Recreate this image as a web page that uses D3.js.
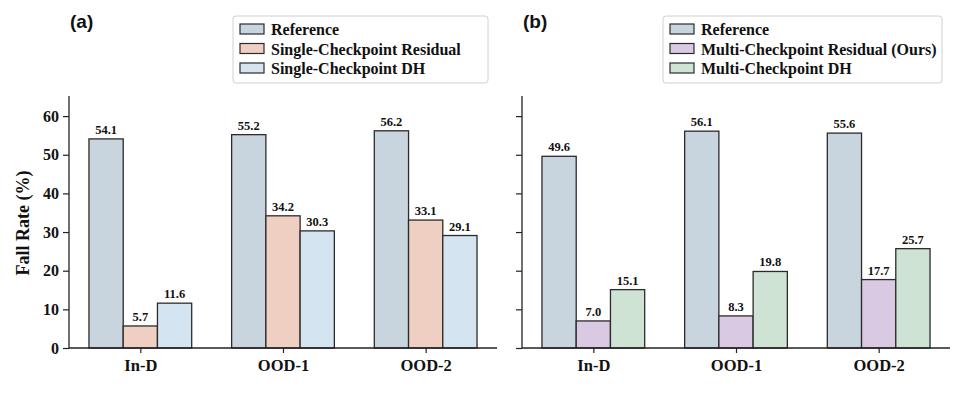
<!DOCTYPE html>
<html>
<head>
<meta charset="utf-8">
<script src="https://cdn.jsdelivr.net/npm/d3@7"></script>
<style>
  body { margin: 0; background: #fff; }
  text { font-family: "Liberation Serif", "Times New Roman", serif; font-weight: bold; fill: #111; }
</style>
</head>
<body>
<div id="chart"></div>
<script>
var width = 965;
var height = 407;

var categories = ["In-D", "OOD-1", "OOD-2"];
var yTicks = [0, 10, 20, 30, 40, 50, 60];

// panel (a)
var seriesA = ["Reference", "Single-Checkpoint Residual", "Single-Checkpoint DH"];
var refA = [54.1, 55.2, 56.2];
var singleResidual = [5.7, 34.2, 33.1];
var singleDH = [11.6, 30.3, 29.1];

// panel (b)
var seriesB = ["Reference", "Multi-Checkpoint Residual (Ours)", "Multi-Checkpoint DH"];
var refB = [49.6, 56.1, 55.6];
var multiResidual = [7.0, 8.3, 17.7];
var multiDH = [15.1, 19.8, 25.7];

var colorsA = ["#c9d5de", "#f0cfc3", "#d5e4f1"];
var colorsB = ["#c9d5de", "#d9c9e3", "#cfe3d4"];

var svg = d3.select("#chart").append("svg")
  .attr("width", width).attr("height", height);

var y = d3.scaleLinear().domain([0, 65.2]).range([348, 96]);

function panel(x0, x1, label, labelX, series, values, colors, showLabels, legendBox) {
  var x = d3.scaleLinear().domain([-0.5, 2.5]).range([x0, x1]);
  var barW = x(0.24) - x(0);
  var g = svg.append("g");

  values.forEach(function (vals, s) {
    g.selectAll(null)
      .data(vals)
      .enter()
      .append("rect")
      .attr("x", function (d, i) { return x(i + (s - 1) * 0.24) - barW / 2; })
      .attr("y", function (d) { return y(d); })
      .attr("width", barW)
      .attr("height", function (d) { return y(0) - y(d); })
      .attr("fill", colors[s])
      .attr("stroke", "#2b2b2b")
      .attr("stroke-width", 1.3);

    g.selectAll(null)
      .data(vals)
      .enter()
      .append("text")
      .attr("x", function (d, i) { return x(i + (s - 1) * 0.24); })
      .attr("y", function (d) { return y(d) - 5; })
      .attr("text-anchor", "middle")
      .attr("font-size", 12.5)
      .text(function (d) { return d.toFixed(1); });
  });

  // y axis
  var yAxis = g.append("g")
    .attr("transform", "translate(" + x0 + ",0)")
    .call(d3.axisLeft(y).tickValues(yTicks).tickSize(6).tickPadding(4)
      .tickFormat(showLabels ? d3.format("d") : ""));
  yAxis.select(".domain").attr("d", "M0," + y(65.2) + "V" + y(0)).attr("stroke", "#222").attr("stroke-width", 1.3);
  yAxis.selectAll(".tick line").attr("stroke", "#222").attr("stroke-width", 1.2);
  yAxis.selectAll(".tick text").attr("font-size", 16).attr("font-family", "Liberation Serif").attr("font-weight", "bold").attr("fill", "#111");

  // x axis
  var xAxis = g.append("g")
    .attr("transform", "translate(0," + y(0) + ")")
    .call(d3.axisBottom(x).tickValues([0, 1, 2]).tickSize(5).tickPadding(6)
      .tickFormat(function (d) { return categories[d]; }));
  xAxis.select(".domain").attr("d", "M" + x0 + ",0H" + x1).attr("stroke", "#222").attr("stroke-width", 1.3);
  xAxis.selectAll(".tick line").attr("stroke", "#222").attr("stroke-width", 1.2);
  xAxis.selectAll(".tick text").attr("font-size", 16.5).attr("font-family", "Liberation Serif").attr("font-weight", "bold").attr("fill", "#111");

  // panel label
  svg.append("text")
    .attr("x", labelX).attr("y", 28)
    .style("font-family", "Liberation Sans, Arial, sans-serif")
    .attr("font-size", 19)
    .text(label);

  // legend
  var lg = svg.append("g").attr("transform", "translate(" + legendBox[0] + "," + legendBox[1] + ")");
  lg.append("rect")
    .attr("width", legendBox[2]).attr("height", legendBox[3])
    .attr("rx", 3)
    .attr("fill", "#fff").attr("stroke", "#d0d0d0").attr("stroke-width", 1);
  series.forEach(function (name, i) {
    lg.append("rect")
      .attr("x", 7).attr("y", 8 + i * 19.5)
      .attr("width", 24).attr("height", 10)
      .attr("fill", colors[i]).attr("stroke", "#2b2b2b").attr("stroke-width", 1.2);
    lg.append("text")
      .attr("x", 38).attr("y", 19 + i * 19.5)
      .attr("font-size", 16)
      .text(name);
  });
}

panel(69, 497, "(a)", 70, seriesA, [refA, singleResidual, singleDH], colorsA, true, [233, 16, 255, 67]);
panel(522, 950, "(b)", 523, seriesB, [refB, multiResidual, multiDH], colorsB, false, [663, 16, 279, 67]);

// y axis title
svg.append("text")
  .attr("transform", "translate(29,223) rotate(-90)")
  .attr("text-anchor", "middle")
  .attr("font-size", 18)
  .text("Fall Rate (%)");
</script>
</body>
</html>
